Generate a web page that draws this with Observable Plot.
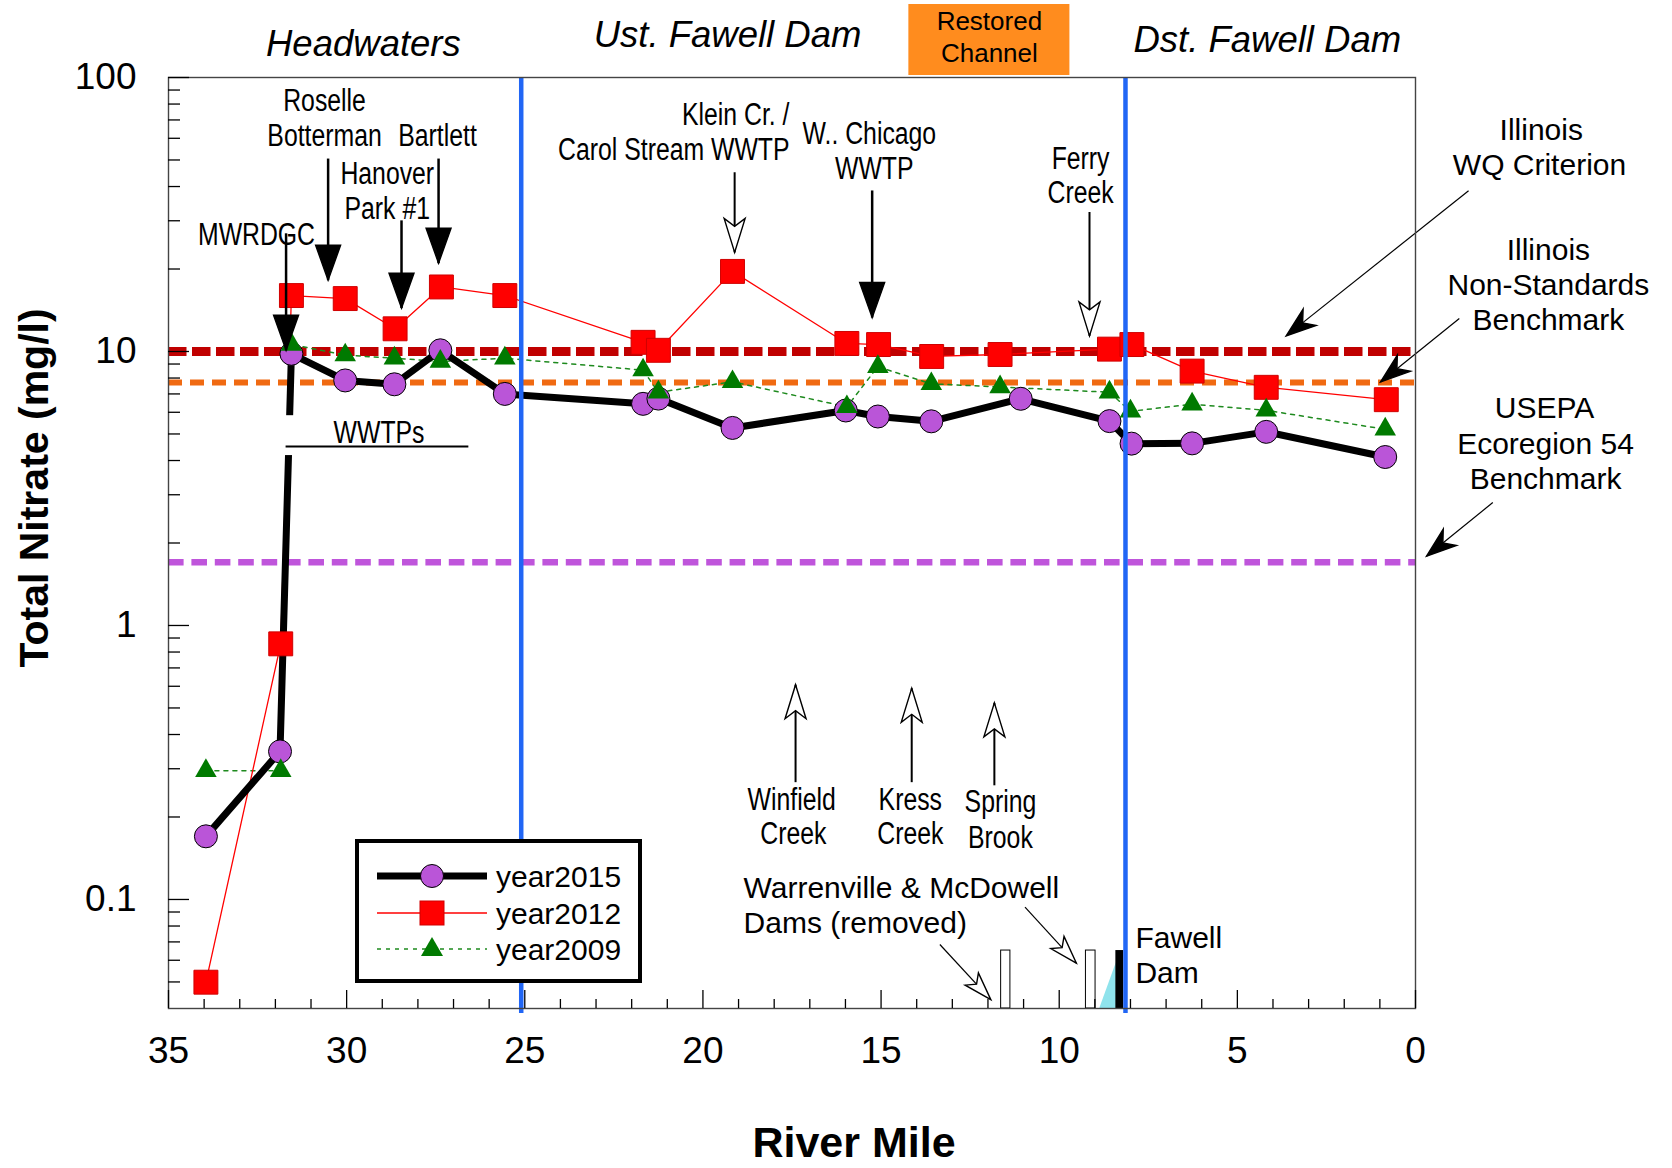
<!DOCTYPE html>
<html><head><meta charset="utf-8">
<script src="https://cdn.jsdelivr.net/npm/d3@7"></script>
<script src="https://cdn.jsdelivr.net/npm/@observablehq/plot@0.6"></script>
<style>
body{margin:0;background:#fff;}
#wrap{position:relative;width:1672px;height:1168px;font-family:"Liberation Sans",Arial,sans-serif;}
#legend{position:absolute;left:355px;top:839px;width:287px;height:144px;box-sizing:border-box;border:4px solid #000;background:#fff;}
</style></head><body><div id="wrap"></div>
<script>
// ---------------- data ----------------
const seriesNames = ["year2015", "year2012", "year2009"];

const miles2015   = [33.95, 31.87, 31.55, 30.04, 28.66, 27.37, 25.56, 21.68, 21.25, 19.17, 15.99, 15.09, 13.59, 11.08, 8.59, 7.97, 6.27, 4.19, 0.85];
const nitrate2015 = [0.170, 0.347, 9.81, 7.84, 7.59, 10.1, 7.0, 6.44, 6.73, 5.26, 6.09, 5.79, 5.56, 6.72, 5.57, 4.61, 4.62, 5.09, 4.12];

const miles2012   = [33.95, 31.85, 31.55, 30.04, 28.64, 27.34, 25.56, 21.68, 21.25, 19.17, 15.96, 15.07, 13.58, 11.66, 8.59, 7.96, 6.27, 4.19, 0.82];
const nitrate2012 = [0.0499, 0.857, 16.0, 15.6, 12.1, 17.2, 16.0, 10.8, 10.1, 19.6, 10.7, 10.6, 9.59, 9.75, 10.2, 10.6, 8.48, 7.40, 6.67];

const miles2009   = [33.95, 31.85, 31.55, 30.04, 28.66, 27.37, 25.56, 21.68, 21.25, 19.17, 15.96, 15.09, 13.59, 11.66, 8.59, 8.0, 6.27, 4.19, 0.85];
const nitrate2009 = [0.295, 0.295, 10.6, 9.7, 9.45, 9.2, 9.45, 8.55, 7.1, 7.75, 6.28, 8.8, 7.62, 7.42, 7.1, 6.05, 6.42, 6.1, 5.2];

const benchmarkLevels = [10, 7.7, 1.7];           // Illinois WQ, Illinois non-standards, USEPA ecoregion 54
const reachBoundaries = [25.1, 8.14];             // river miles of the blue reach dividers
const reachNames   = ["Headwaters", "Ust. Fawell Dam", "Dst. Fawell Dam"];
const reachCenters = [29.53, 19.31, 4.16];
const restoredReach = [14.22, 9.70];
const restoredText  = ["Restored", "Channel"];

const xMajorTicks = [35, 30, 25, 20, 15, 10, 5, 0];
const xMinorTicks = [34,33,32,31,29,28,27,26,24,23,22,21,19,18,17,16,14,13,12,11,9,8,7,6,4,3,2,1];
const yMajorTicks = [0.1, 1, 10, 100];
const yMinorTicks = [0.05,0.06,0.07,0.08,0.09,0.2,0.3,0.4,0.5,0.6,0.7,0.8,0.9,2,3,4,5,6,7,8,9,20,30,40,50,60,70,80,90];

// annotation labels (river mile, mg/l)
const narrowLabels = [
  {t:"Roselle", m:30.62, c:81.8}, {t:"Botterman", m:30.62, c:60.9}, {t:"Bartlett", m:27.45, c:60.9},
  {t:"Hanover", m:28.86, c:44.3}, {t:"Park #1", m:28.86, c:33.0}, {t:"MWRDGC", m:32.53, c:26.7},
  {t:"W.. Chicago", m:15.33, c:61.9}, {t:"WWTP", m:15.19, c:46.5},
  {t:"Ferry", m:9.40, c:50.2}, {t:"Creek", m:9.40, c:37.7},
  {t:"Winfield", m:17.51, c:0.2297}, {t:"Creek", m:17.46, c:0.1727},
  {t:"Kress", m:14.18, c:0.2297}, {t:"Creek", m:14.18, c:0.1727},
  {t:"Spring", m:11.65, c:0.226}, {t:"Brook", m:11.65, c:0.168},
  {t:"WWTPs", m:29.09, c:5.02}
];
const kleinLabels = [{t:"Klein Cr. /", m:17.57, c:72.7}, {t:"Carol Stream WWTP", m:17.57, c:54.2}];
const damLabels = [
  {t:"Warrenville & McDowell", m:18.86, c:0.1096}, {t:"Dams (removed)", m:18.86, c:0.0817},
  {t:"Fawell", m:7.86, c:0.0721}, {t:"Dam", m:7.86, c:0.0537}
];
const benchmarkLabels = [
  {t:"Illinois", m:-3.53, c:64.1}, {t:"WQ Criterion", m:-3.48, c:47.7},
  {t:"Illinois", m:-3.73, c:23.4}, {t:"Non-Standards", m:-3.73, c:17.4}, {t:"Benchmark", m:-3.73, c:13.0},
  {t:"USEPA", m:-3.62, c:6.19}, {t:"Ecoregion 54", m:-3.65, c:4.58}, {t:"Benchmark", m:-3.65, c:3.41}
];
const wwtpSpan = {m1:31.70, m2:26.57, c:4.5};

// arrows: start (m1,c1) -> tip (m2,c2)
const dischargeArrows = [
  {m1:31.70, c1:27.0, m2:31.70, c2:10.1}, {m1:30.52, c1:50.6, m2:30.52, c2:18.2},
  {m1:28.46, c1:30.1, m2:28.46, c2:14.4}, {m1:27.42, c1:50.6, m2:27.42, c2:21.0},
  {m1:15.25, c1:38.7, m2:15.25, c2:13.3}
];
const tributaryArrows = [
  {m1:19.11, c1:45.1, m2:19.11, c2:23.0}, {m1:9.15, c1:32.3, m2:9.15, c2:11.4},
  {m1:17.40, c1:0.268, m2:17.40, c2:0.608}, {m1:14.14, c1:0.268, m2:14.14, c2:0.590},
  {m1:11.82, c1:0.261, m2:11.82, c2:0.522}
];
const damArrows = [
  {m1:13.35, c1:0.0685, m2:11.92, c2:0.0431}, {m1:10.96, c1:0.0938, m2:9.52, c2:0.0586}
];
const benchmarkArrows = [
  {m1:-1.49, c1:38.6, m2:3.63, c2:11.4}, {m1:-1.23, c1:13.2, m2:0.98, c2:7.74}, {m1:-2.17, c1:2.81, m2:-0.31, c2:1.79}
];
const removedDams = [{m1:11.63, m2:11.37}, {m1:9.25, m2:8.98}];
const fawellDam = [{m1:8.41, m2:8.19}];
const damHeight = 0.0651;
const fawellPool = [{m:8.88, c:0.04}, {m:8.41, c:0.059}, {m:8.41, c:0.04}];

// ---------------- layout ----------------
const W = 1672, H = 1168, ML = 168, MR = 257, MT = 77, MB = 160;
const xDomain = [35, 0], yDomain = [0.04, 100];
const xs = d3.scaleLinear(xDomain, [ML, W - MR]);
const ys = d3.scaleLog(yDomain, [H - MB, MT]);

const rows = (m, v) => m.map((d, i) => ({mile: d, conc: v[i]}));
const s2015 = rows(miles2015, nitrate2015);
const s2012 = rows(miles2012, nitrate2012);
const s2009 = rows(miles2009, nitrate2009);

function headSymbol(angle, len, hw, notch) {
  const c = Math.cos(angle), s = Math.sin(angle);
  const P = (a, b) => [-a * c - b * s, -a * s + b * c];
  return {draw(ctx) {
    ctx.moveTo(0, 0);
    ctx.lineTo(...P(len, hw));
    ctx.lineTo(...P(len - notch, 0));
    ctx.lineTo(...P(len, -hw));
    ctx.closePath();
  }};
}
function arrowMarks(list, {shaft, len, hw, notch, fill}) {
  const marks = [Plot.link(list, {x1:"m1", y1:"c1", x2:"m2", y2:"c2", stroke:"#000", strokeWidth:shaft})];
  for (const a of list) {
    const ang = Math.atan2(ys(a.c2) - ys(a.c1), xs(a.m2) - xs(a.m1));
    marks.push(Plot.dot([a], {x:"m2", y:"c2", r:5, symbol: headSymbol(ang, len, hw, notch), fill, stroke:"#000", strokeWidth:1.4}));
  }
  return marks;
}

const font = "'Liberation Sans', Arial, sans-serif";
const narrow = "Liberation Sans, Arial, sans-serif";   // rendered condensed below
const midRestored = (restoredReach[0] + restoredReach[1]) / 2;
const boxTop = 4, boxBottom = 75;                      // pixel rows of the "Restored Channel" box

const chart = Plot.plot({
  width: W, height: H,
  marginLeft: ML, marginRight: MR, marginTop: MT, marginBottom: MB,
  x: {domain: xDomain},
  y: {type: "log", domain: yDomain},
  style: {fontFamily: font, background: "white", color: "#000"},
  marks: [
    // Restored channel box above the frame
    Plot.rect([restoredReach], {x1: d => d[0], x2: d => d[1], insetTop: boxTop - MT, insetBottom: (H - MB) - boxBottom, fill: "#FF8C1E"}),
    // benchmark dashed lines
    Plot.ruleY([benchmarkLevels[0]], {stroke: "#C00000", strokeWidth: 9, strokeDasharray: "18.5,5.5"}),
    Plot.ruleY([benchmarkLevels[1]], {stroke: "#F06A12", strokeWidth: 6, strokeDasharray: "14,8"}),
    Plot.ruleY([benchmarkLevels[2]], {stroke: "#BF55DB", strokeWidth: 6.5, strokeDasharray: "15.6,7.8"}),
    // series lines
    Plot.line(s2009, {x: "mile", y: "conc", stroke: "#1E8A1E", strokeWidth: 1.5, strokeDasharray: "4,5"}),
    Plot.line(s2012, {x: "mile", y: "conc", stroke: "#FF0000", strokeWidth: 1.3}),
    Plot.line(s2015, {x: "mile", y: "conc", stroke: "#000", strokeWidth: 7}),
    // WWTPs label with white backing
    Plot.rect([wwtpSpan], {x1: 32.0, x2: 26.6, y1: 4.17, y2: 5.83, fill: "white"}),
    Plot.ruleY([wwtpSpan], {x1: "m1", x2: "m2", y: "c", stroke: "#000", strokeWidth: 2}),
    // markers
    Plot.dot(s2015, {x: "mile", y: "conc", r: 11.5, fill: "#BA55D8", stroke: "#000", strokeWidth: 1}),
    Plot.dot(s2012, {x: "mile", y: "conc", symbol: "square", r: 13.5, fill: "#FF0000", stroke: "#D00000", strokeWidth: 1}),
    Plot.dot(s2009, {x: "mile", y: "conc", symbol: "triangle", r: 8, fill: "#007A00", stroke: "none"}),
    // dams
    Plot.line(fawellPool, {x: "m", y: "c", fill: "#8FE3EC", stroke: "none"}),
    Plot.rect(removedDams, {x1: "m1", x2: "m2", y1: yDomain[0], y2: damHeight, fill: "white", stroke: "#000", strokeWidth: 1}),
    Plot.rect(fawellDam, {x1: "m1", x2: "m2", y1: yDomain[0], y2: damHeight, fill: "#000"}),
    // arrows
    ...arrowMarks(dischargeArrows, {shaft: 2.5, len: 35, hw: 12.5, notch: 0, fill: "#000"}),
    ...arrowMarks(tributaryArrows, {shaft: 2, len: 34, hw: 10.5, notch: 8, fill: "white"}),
    ...arrowMarks(damArrows, {shaft: 1.2, len: 28, hw: 9, notch: 7, fill: "white"}),
    ...arrowMarks(benchmarkArrows, {shaft: 1.2, len: 30, hw: 10.5, notch: 9, fill: "#000"}),
    // labels
    Plot.text(narrowLabels, {x: "m", y: "c", text: "t", fontSize: 31, fontFamily: narrow}),
    Plot.text(kleinLabels, {x: "m", y: "c", text: "t", fontSize: 31, fontFamily: narrow, textAnchor: "end"}),
    Plot.text(damLabels, {x: "m", y: "c", text: "t", fontSize: 30, fontFamily: font, textAnchor: "start"}),
    Plot.text(benchmarkLabels, {x: "m", y: "c", text: "t", fontSize: 30, fontFamily: font}),
    // reach headers
    Plot.text([reachNames[0]], {x: reachCenters[0], text: d => d, frameAnchor: "top", lineAnchor: "middle", dy: -33, fontSize: 36.5, fontStyle: "italic"}),
    Plot.text([reachNames[1]], {x: reachCenters[1], text: d => d, frameAnchor: "top", lineAnchor: "middle", dy: -42, fontSize: 36.5, fontStyle: "italic"}),
    Plot.text([reachNames[2]], {x: reachCenters[2], text: d => d, frameAnchor: "top", lineAnchor: "middle", dy: -37.5, fontSize: 36.5, fontStyle: "italic"}),
    Plot.text([restoredText[0]], {x: midRestored, text: d => d, frameAnchor: "top", lineAnchor: "middle", dy: -56, fontSize: 26}),
    Plot.text([restoredText[1]], {x: midRestored, text: d => d, frameAnchor: "top", lineAnchor: "middle", dy: -24, fontSize: 26}),
    // blue reach dividers
    Plot.ruleX(reachBoundaries, {stroke: "#2166F5", strokeWidth: 4.5, insetBottom: -5}),
    // frame & axes
    Plot.frame({stroke: "#444", strokeWidth: 1.4}),
    Plot.axisY({ticks: yMajorTicks, tickSize: -21, tickPadding: 53, fontSize: 37, tickFormat: d => String(d), label: null, strokeWidth: 1.3}),
    Plot.axisY({ticks: yMinorTicks, tickSize: -12, tickFormat: () => "", label: null, strokeWidth: 1.3}),
    Plot.axisX({ticks: xMajorTicks, tickSize: -18, tickPadding: 46, fontSize: 37, tickFormat: d => String(d), label: null, strokeWidth: 1.3}),
    Plot.axisX({ticks: xMinorTicks, tickSize: -9, tickFormat: () => "", label: null, strokeWidth: 1.3}),
    Plot.text(["Total Nitrate (mg/l)"], {text: d => d, frameAnchor: "left", textAnchor: "middle", lineAnchor: "middle", rotate: -90, dx: -134, dy: -55, fontSize: 41, fontWeight: "bold"}),
    Plot.text(["River Mile"], {text: d => d, frameAnchor: "bottom", textAnchor: "middle", lineAnchor: "middle", dx: 62, dy: 135, fontSize: 43, fontWeight: "bold"})
  ]
});

// condensed look for the callout labels
chart.querySelectorAll(`g[font-family="${narrow}"] text`).forEach(el => {
  const t = el.getAttribute("transform");
  if (t) el.setAttribute("transform", t + " scale(0.8,1)");
  else {
    const x = +el.getAttribute("x") || 0, y = +el.getAttribute("y") || 0;
    el.removeAttribute("x"); el.removeAttribute("y");
    el.setAttribute("transform", `translate(${x},${y}) scale(0.8,1)`);
  }
});

const wrap = document.getElementById("wrap");
wrap.appendChild(chart);

// legend (HTML overlay inside the plot area)
const legend = document.createElement("div");
legend.id = "legend";
const styles = [
  {stroke: "#000", sw: 7, dash: null, sym: "circle"},
  {stroke: "#FF0000", sw: 1.3, dash: null, sym: "square"},
  {stroke: "#1E8A1E", sw: 1.5, dash: "4,5", sym: "triangle"}
];
const rowY = [33, 70, 106];
let svg = `<svg width="279" height="136" style="font-family:Liberation Sans, Arial, sans-serif">`;
seriesNames.forEach((name, i) => {
  const st = styles[i], y = rowY[i];
  svg += `<line x1="18" x2="128" y1="${y}" y2="${y}" stroke="${st.stroke}" stroke-width="${st.sw}" ${st.dash ? `stroke-dasharray="${st.dash}"` : ""}/>`;
  if (st.sym === "circle") svg += `<circle cx="73" cy="${y}" r="11.5" fill="#BA55D8" stroke="#000"/>`;
  if (st.sym === "square") svg += `<rect x="61" y="${y - 12}" width="24" height="24" fill="#FF0000" stroke="#D00000"/>`;
  if (st.sym === "triangle") svg += `<path d="M73,${y - 12}L84,${y + 7}L62,${y + 7}Z" fill="#007A00"/>`;
  svg += `<text x="137" y="${y}" dy="0.35em" font-size="30">${name}</text>`;
});
svg += `</svg>`;
legend.innerHTML = svg;
wrap.appendChild(legend);
</script>
</body></html>
